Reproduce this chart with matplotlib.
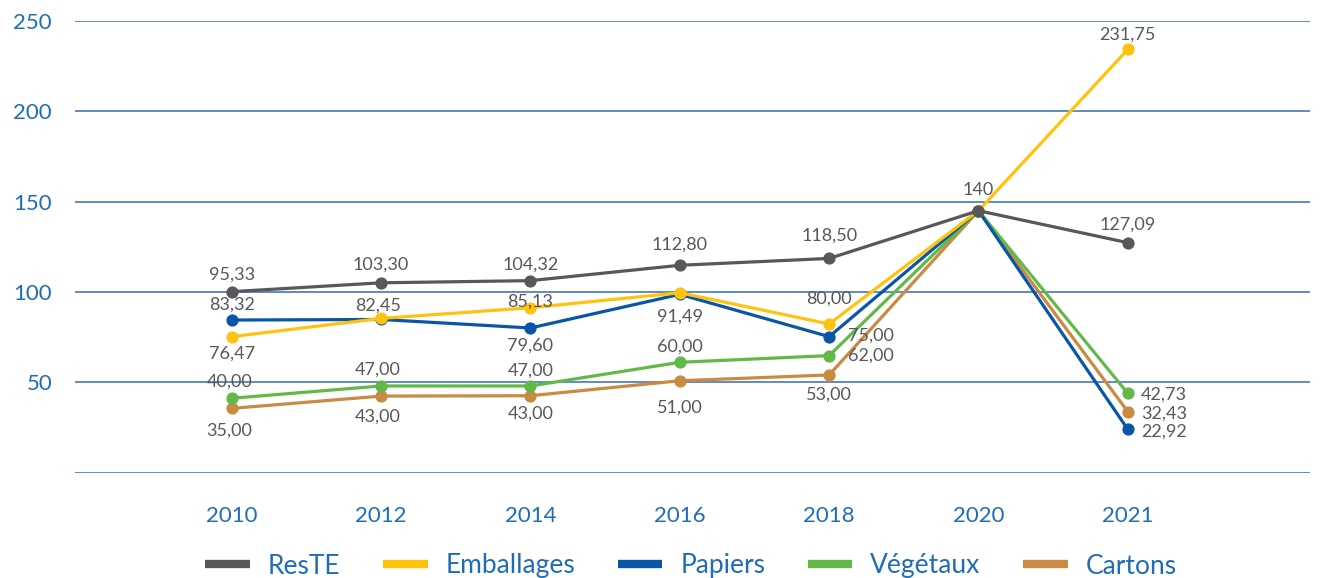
import matplotlib
matplotlib.use("Agg")
import matplotlib.pyplot as plt
from matplotlib.lines import Line2D

plt.rcParams['font.family'] = ['Lato', 'DejaVu Sans']

# ---------------- data ----------------
years = ['2010', '2012', '2014', '2016', '2018', '2020', '2021']

series_names = ['ResTE', 'Emballages', 'Papiers', 'Végétaux', 'Cartons']

reste = [100.2, 105.1, 106.3, 114.8, 118.6, 145.0, 127.3]
emballages = [75.3, 85.4, 91.3, 99.6, 82.3, 145.0, 234.3]
papiers = [84.5, 84.8, 80.1, 98.7, 75.3, 145.0, 24.0]
vegetaux = [41.2, 48.0, 48.0, 61.1, 64.8, 145.0, 43.9]
cartons = [35.6, 42.4, 42.6, 50.9, 54.1, 145.0, 33.8]

reste_labels = ['95,33', '103,30', '104,32', '112,80', '118,50', '140', '127,09']
emballages_labels = ['76,47', '82,45', '85,13', '91,49', '80,00', None, '231,75']
papiers_labels = ['83,32', None, '79,60', None, '75,00', None, '22,92']
vegetaux_labels = ['40,00', '47,00', '47,00', '60,00', '62,00', None, '42,73']
cartons_labels = ['35,00', '43,00', '43,00', '51,00', '53,00', None, '32,43']

y_ticks = [0, 50, 100, 150, 200, 250]
y_tick_labels = ['', '50', '100', '150', '200', '250']

# ---------------- style / layout ----------------
colors = ['#58585a', '#ffc20e', '#0a56a6', '#62b947', '#c98a42']
zorders = [7, 6, 5, 4, 3]
label_color = '#58585a'
blue_text = '#1f6db5'
grid_color = '#2f6eb3'

# label offsets in pixels (dx, dy, ha)
U = lambda d: (0, d, 'center')
R = lambda dx, dy: (dx, dy, 'left')
offsets = {
    'ResTE': [U(17), U(18), U(16), U(21), U(23), U(21), U(18)],
    'Emballages': [U(-17), (-3, 13, 'center'), U(6), U(-24), U(25), None, U(15)],
    'Papiers': [U(15), None, U(-18), None, R(19, 1), None, R(13, -2)],
    'Végétaux': [(-2, 17, 'center'), (-3, 16, 'center'), U(15), U(16), R(19, 0), None, R(13, -1)],
    'Cartons': [(-3, -22, 'center'), (-3, -21, 'center'), U(-18), U(-27), U(-20), None, R(13, -2)],
}

all_values = [reste, emballages, papiers, vegetaux, cartons]
all_labels = [reste_labels, emballages_labels, papiers_labels, vegetaux_labels, cartons_labels]

fig = plt.figure(figsize=(13.22, 5.78), dpi=100)
ax = fig.add_axes([75 / 1322, 1 - 472.7 / 578, (1310 - 75) / 1322, (472.7 - 21) / 578])

x = list(range(len(years)))
for name, vals, labs, col, zo in zip(series_names, all_values, all_labels, colors, zorders):
    ax.plot(x, vals, color=col, lw=2.3, marker='o', markersize=7.8,
            zorder=zo, clip_on=False, solid_capstyle='round')
    for i, (v, lab) in enumerate(zip(vals, labs)):
        if lab is None:
            continue
        dx, dy, ha = offsets[name][i]
        ax.annotate(lab, (i, v), xytext=(dx, dy), textcoords='offset pixels',
                    ha=ha, va='center', fontsize=13, color=label_color,
                    zorder=20, annotation_clip=False)

ax.set_xlim(-1.05, 7.22)
ax.set_ylim(0, 250)
ax.set_xticks(x)
ax.set_xticklabels(years)
ax.set_yticks(y_ticks)
ax.set_yticklabels(y_tick_labels)
ax.tick_params(axis='both', length=0, labelsize=16, colors=blue_text)
ax.tick_params(axis='x', pad=24)
ax.tick_params(axis='y', pad=16.5)
ax.grid(axis='y', color=grid_color, lw=1.1, zorder=0)
ax.grid(axis='x', visible=False)
ax.set_axisbelow(True)
for s in ax.spines.values():
    s.set_visible(False)

handles = [Line2D([0], [0], color=c, lw=6, solid_capstyle='butt') for c in colors]
leg = fig.legend(handles, series_names, loc='center', bbox_to_anchor=(691 / 1322, 1 - 566 / 578),
                 ncol=5, frameon=False, fontsize=19, handlelength=1.7,
                 handletextpad=0.68, columnspacing=1.6, labelcolor=blue_text)

fig.savefig('out.png', dpi=100)
